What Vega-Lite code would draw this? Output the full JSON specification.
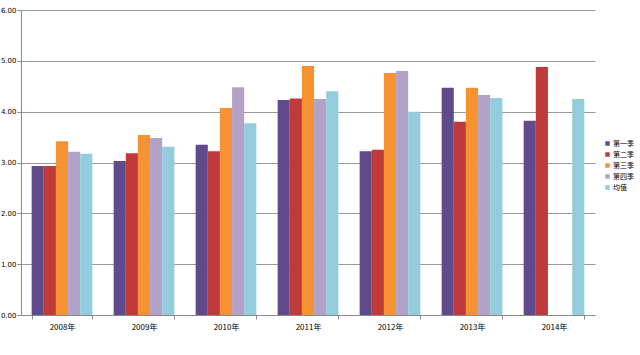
{
  "$schema": "https://vega.github.io/schema/vega-lite/v6.json",
  "width": 574,
  "height": 305,
  "autosize": {"type": "none"},
  "padding": {"left": 21, "top": 10, "right": 45, "bottom": 40},
  "background": "white",
  "config": {
    "view": {"stroke": null},
    "font": "Noto Sans CJK SC"
  },
  "data": {
    "values": [
      {"year": "2008年", "s": "第一季", "v": 2.93},
      {"year": "2008年", "s": "第二季", "v": 2.93},
      {"year": "2008年", "s": "第三季", "v": 3.42},
      {"year": "2008年", "s": "第四季", "v": 3.21},
      {"year": "2008年", "s": "均值", "v": 3.17},
      {"year": "2009年", "s": "第一季", "v": 3.03},
      {"year": "2009年", "s": "第二季", "v": 3.18},
      {"year": "2009年", "s": "第三季", "v": 3.54},
      {"year": "2009年", "s": "第四季", "v": 3.48},
      {"year": "2009年", "s": "均值", "v": 3.31},
      {"year": "2010年", "s": "第一季", "v": 3.35},
      {"year": "2010年", "s": "第二季", "v": 3.22},
      {"year": "2010年", "s": "第三季", "v": 4.07},
      {"year": "2010年", "s": "第四季", "v": 4.48},
      {"year": "2010年", "s": "均值", "v": 3.77},
      {"year": "2011年", "s": "第一季", "v": 4.23},
      {"year": "2011年", "s": "第二季", "v": 4.26},
      {"year": "2011年", "s": "第三季", "v": 4.9},
      {"year": "2011年", "s": "第四季", "v": 4.25},
      {"year": "2011年", "s": "均值", "v": 4.4},
      {"year": "2012年", "s": "第一季", "v": 3.22},
      {"year": "2012年", "s": "第二季", "v": 3.25},
      {"year": "2012年", "s": "第三季", "v": 4.76},
      {"year": "2012年", "s": "第四季", "v": 4.8},
      {"year": "2012年", "s": "均值", "v": 4.0},
      {"year": "2013年", "s": "第一季", "v": 4.47},
      {"year": "2013年", "s": "第二季", "v": 3.8},
      {"year": "2013年", "s": "第三季", "v": 4.47},
      {"year": "2013年", "s": "第四季", "v": 4.33},
      {"year": "2013年", "s": "均值", "v": 4.27},
      {"year": "2014年", "s": "第一季", "v": 3.82},
      {"year": "2014年", "s": "第二季", "v": 4.88},
      {"year": "2014年", "s": "第三季", "v": null},
      {"year": "2014年", "s": "第四季", "v": null},
      {"year": "2014年", "s": "均值", "v": 4.25}
    ]
  },
  "mark": {"type": "bar"},
  "encoding": {
    "x": {
      "field": "year",
      "type": "nominal",
      "scale": {"paddingInner": 0.26, "paddingOuter": 0.13},
      "axis": {
        "title": null,
        "labelAngle": 0,
        "labelFontSize": 8,
        "labelColor": "#000",
        "labelPadding": 4,
        "tickBand": "extent",
        "tickSize": 4,
        "tickColor": "#888",
        "domainColor": "#888",
        "grid": false
      }
    },
    "xOffset": {
      "field": "s",
      "type": "nominal",
      "sort": ["第一季", "第二季", "第三季", "第四季", "均值"],
      "scale": {"paddingInner": 0, "paddingOuter": 0}
    },
    "y": {
      "field": "v",
      "type": "quantitative",
      "scale": {"domain": [0, 6], "nice": false},
      "axis": {
        "title": null,
        "values": [0, 1, 2, 3, 4, 5, 6],
        "format": ".2f",
        "labelFontSize": 7,
        "labelFont": "DejaVu Sans",
        "labelColor": "#000",
        "tickSize": 4,
        "tickColor": "#888",
        "domainColor": "#888",
        "gridColor": "#999",
        "labelPadding": 1
      }
    },
    "color": {
      "field": "s",
      "type": "nominal",
      "sort": ["第一季", "第二季", "第三季", "第四季", "均值"],
      "scale": {
        "domain": ["第一季", "第二季", "第三季", "第四季", "均值"],
        "range": ["#5f4a8b", "#c0393b", "#f79232", "#b2a2c7", "#93cddd"]
      },
      "legend": {
        "title": null,
        "orient": "none",
        "legendX": 583,
        "legendY": 130,
        "labelFontSize": 7,
        "symbolType": "square",
        "symbolSize": 20,
        "rowPadding": 3,
        "labelOffset": 2,
        "symbolStrokeWidth": 0
      }
    }
  }
}
